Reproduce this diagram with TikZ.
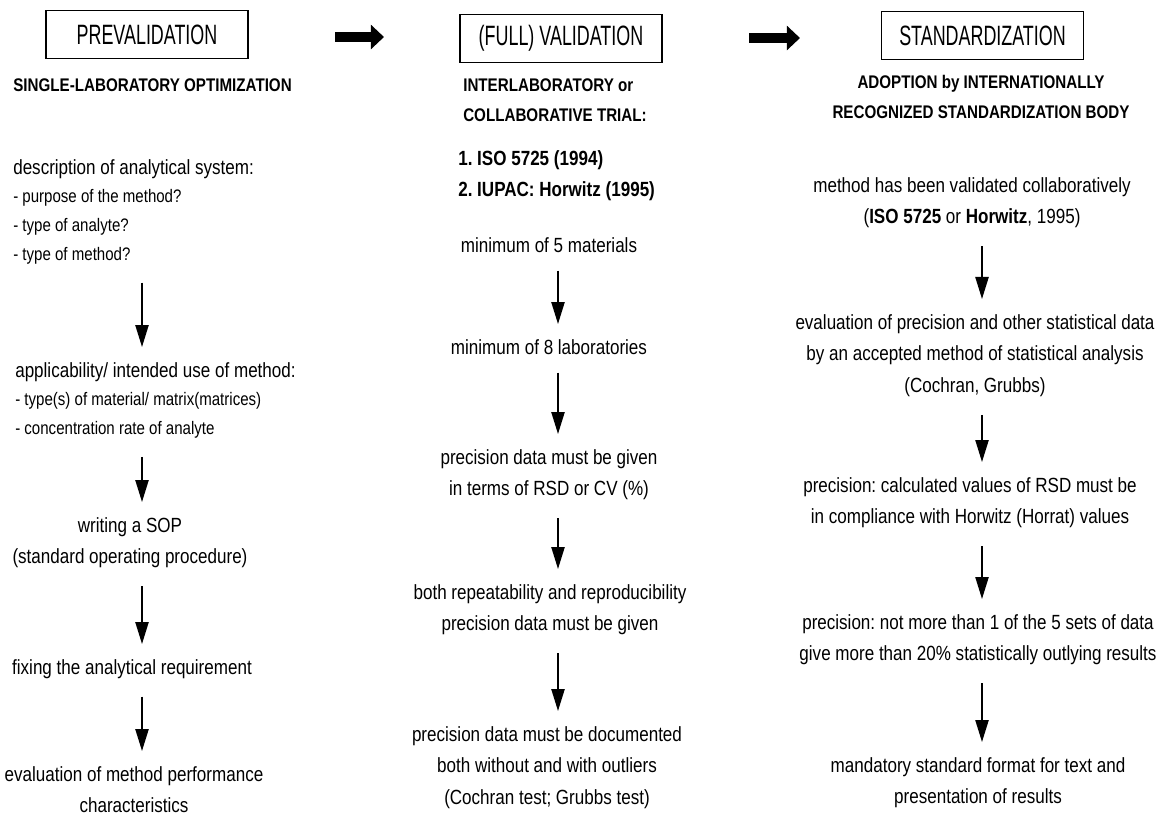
\documentclass[tikz,border=0pt]{standalone}
\usepackage{fontspec}
\setmainfont{Liberation Sans}[FakeStretch=0.83]
\newfontfamily\titlefont{Liberation Sans}[FakeStretch=0.64]
\usetikzlibrary{arrows.meta}
\frenchspacing
\newcommand{\bodysize}{\fontsize{14.6pt}{22.5pt}\selectfont}
\newcommand{\listsize}{\fontsize{12.9pt}{20.5pt}\selectfont}
\newcommand{\headsize}{\fontsize{13pt}{21.3pt}\selectfont}
\tikzstyle{title box}=[draw, line width=1.2pt, minimum width=5.05cm, minimum height=1.2cm, inner sep=0pt, font=\titlefont\fontsize{19.9pt}{24pt}\selectfont]
\tikzstyle{head text}=[inner sep=0pt, font=\headsize\bfseries]
\tikzstyle{step text}=[inner sep=0pt, align=center, font=\bodysize]
\tikzstyle{list text}=[inner sep=0pt, align=left, anchor=north west, font=\listsize]
\tikzstyle{flow arrow}=[-{Triangle[length=0.55cm, width=0.33cm]}, line width=1.2pt, shorten <=0.45cm, shorten >=0.375cm]
\tikzstyle{phase arrow}=[-{Triangle[length=0.33cm, width=0.6cm]}, line width=7.8pt]

\begin{document}
\begin{tikzpicture}[x=0.025cm, y=-0.025cm]
	\useasboundingbox (0,0) rectangle (1163,818);

	\node [title box] (pre) at (147,34.5) {PREVALIDATION};
	\node [title box] (full) at (561,38.5) {(FULL) VALIDATION};
	\node [title box] (std) at (982.5,35.5) {STANDARDIZATION};

	\coordinate (p1) at (335,37);
	\coordinate (p2) at (384,37);
	\coordinate (p3) at (749,38);
	\coordinate (p4) at (800,38);
	\draw [phase arrow] (p1) -- (p2);
	\draw [phase arrow] (p3) -- (p4);

	\node [head text, anchor=north west] (opt) at (13,78) {SINGLE-LABORATORY OPTIMIZATION};
	\node [list text] (desc) at (13,159) {{\bodysize description of analytical system:}\\- purpose of the method?\\- type of analyte?\\- type of method?};
	\node [list text] (appl) at (15,362) {{\bodysize applicability/ intended use of method:}\\- type(s) of material/ matrix(matrices)\\- concentration rate of analyte};
	\node [step text, anchor=north] (sop) at (130,517) {writing a SOP\\(standard operating procedure)};
	\node [step text, anchor=north] (fix) at (132,659) {fixing the analytical requirement};
	\node [step text, anchor=north] (eval) at (134,766) {evaluation of method performance\\characteristics};

	\node [head text, anchor=north west, align=left] (inter) at (463,78) {INTERLABORATORY or\\COLLABORATIVE TRIAL:};
	\node [step text, anchor=north west, align=left, font=\bodysize\bfseries] (iso) at (458,150) {1. ISO 5725 (1994)\\2. IUPAC: Horwitz (1995)};
	\node [step text, anchor=north] (mat) at (549,237) {minimum of 5 materials};
	\node [step text, anchor=north] (lab) at (549,339) {minimum of 8 laboratories};
	\node [step text, anchor=north] (rsd) at (549,449) {precision data must be given\\in terms of RSD or CV (\%)};
	\node [step text, anchor=north] (rep) at (550,584) {both repeatability and reproducibility\\precision data must be given};
	\node [step text, anchor=north] (doc) at (547,726) {precision data must be documented\\both without and with outliers\\(Cochran test; Grubbs test)};

	\node [head text, anchor=north, align=center] (adopt) at (981,75) {ADOPTION by INTERNATIONALLY\\RECOGNIZED STANDARDIZATION BODY};
	\node [step text, anchor=north] (coll) at (972,177) {method has been validated collaboratively\\(\textbf{ISO 5725} or \textbf{Horwitz}, 1995)};
	\node [step text, anchor=north] (stat) at (975,314) {evaluation of precision and other statistical data\\by an accepted method of statistical analysis\\(Cochran, Grubbs)};
	\node [step text, anchor=north] (horrat) at (970,477) {precision: calculated values of RSD must be\\in compliance with Horwitz (Horrat) values};
	\node [step text, anchor=north] (outl) at (978,614) {precision: not more than 1 of the 5 sets of data\\give more than 20\% statistically outlying results};
	\node [step text, anchor=north] (fmt) at (978,757) {mandatory standard format for text and\\presentation of results};

	\coordinate (c1) at (142,0);
	\coordinate (c2) at (558,0);
	\coordinate (c3) at (982,0);
	\draw [flow arrow] (desc.south -| c1) -- (appl.north -| c1);
	\draw [flow arrow] (appl.south -| c1) -- (sop.north -| c1);
	\draw [flow arrow] (sop.south -| c1) -- (fix.north -| c1);
	\draw [flow arrow] (fix.south -| c1) -- (eval.north -| c1);
	\draw [flow arrow] (mat.south -| c2) -- (lab.north -| c2);
	\draw [flow arrow] (lab.south -| c2) -- (rsd.north -| c2);
	\draw [flow arrow] (rsd.south -| c2) -- (rep.north -| c2);
	\draw [flow arrow] (rep.south -| c2) -- (doc.north -| c2);
	\draw [flow arrow] (coll.south -| c3) -- (stat.north -| c3);
	\draw [flow arrow] (stat.south -| c3) -- (horrat.north -| c3);
	\draw [flow arrow] (horrat.south -| c3) -- (outl.north -| c3);
	\draw [flow arrow] (outl.south -| c3) -- (fmt.north -| c3);
\end{tikzpicture}
\end{document}
